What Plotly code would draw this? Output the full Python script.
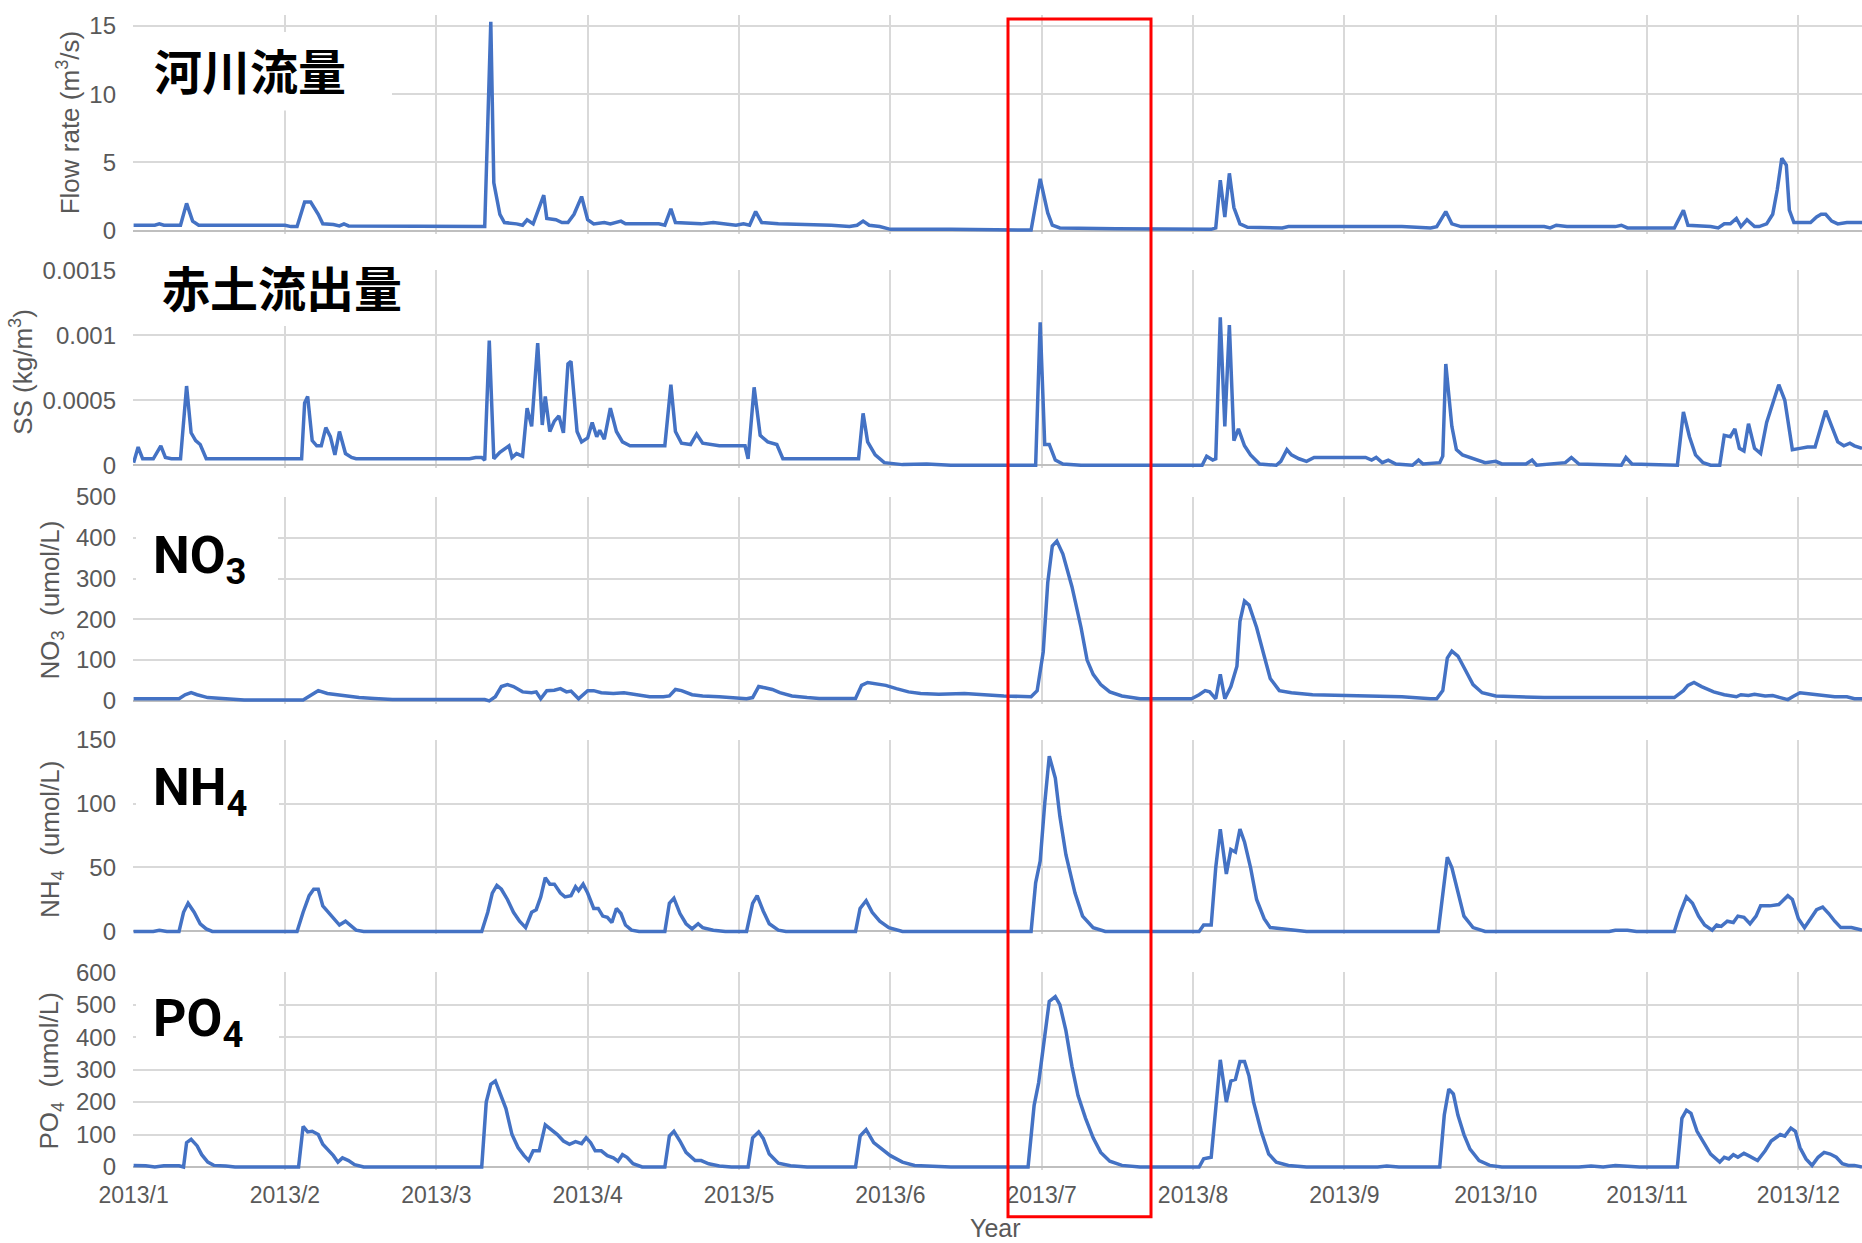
import plotly.graph_objects as go

# ---------------- data (x = months since 2013/1, equally spaced month axis) ----------------
month_ticks = [0, 1, 2, 3, 4, 5, 6, 7, 8, 9, 10, 11]
month_labels = ["2013/1", "2013/2", "2013/3", "2013/4", "2013/5", "2013/6",
                "2013/7", "2013/8", "2013/9", "2013/10", "2013/11", "2013/12"]

t_flow = [0.00, 0.14, 0.17, 0.20, 0.31, 0.35, 0.39, 0.43,
          1.00, 1.04, 1.08, 1.13, 1.17, 1.22, 1.25, 1.32, 1.36, 1.39, 1.42,
          1.99, 2.02, 2.32, 2.36, 2.38, 2.42, 2.45, 2.53, 2.57, 2.60, 2.64, 2.71, 2.73, 2.79, 2.83, 2.87, 2.91, 2.96,
          3.00, 3.04, 3.11, 3.15, 3.18, 3.22, 3.25, 3.47, 3.51, 3.55, 3.58, 3.75, 3.83, 3.91, 3.98,
          4.03, 4.07, 4.11, 4.15, 4.26, 4.61, 4.73, 4.78, 4.82, 4.86, 4.93,
          5.00, 5.40, 5.79, 5.93, 5.99,
          6.04, 6.07, 6.12, 6.49, 6.96,
          7.04, 7.12, 7.15, 7.18, 7.21, 7.24, 7.27, 7.31, 7.36, 7.59, 7.63,
          8.06, 8.38, 8.57, 8.61, 8.67, 8.71, 8.77,
          9.08, 9.32, 9.36, 9.40, 9.47, 9.79, 9.83, 9.87,
          10.18, 10.24, 10.27, 10.42, 10.47, 10.51, 10.55, 10.59, 10.62, 10.66, 10.71, 10.74, 10.79, 10.83, 10.86, 10.89, 10.92, 10.94, 10.97,
          11.08, 11.12, 11.15, 11.18, 11.22, 11.26, 11.32, 11.42]
flow = [0.4, 0.4, 0.5, 0.4, 0.4, 2.0, 0.7, 0.4,
        0.4, 0.3, 0.3, 2.1, 2.1, 1.2, 0.5, 0.45, 0.35, 0.5, 0.35,
        0.35, 0.3, 0.3, 15.3, 3.5, 1.2, 0.6, 0.5, 0.4, 0.8, 0.5, 2.6, 0.9, 0.8, 0.6, 0.6, 1.2, 2.5,
        0.8, 0.5, 0.6, 0.5, 0.6, 0.7, 0.5, 0.5, 0.4, 1.6, 0.6, 0.5, 0.6, 0.5, 0.4,
        0.5, 0.4, 1.4, 0.6, 0.5, 0.4, 0.3, 0.4, 0.7, 0.4, 0.3,
        0.1, 0.1, 0.05, 0.05, 3.8,
        1.3, 0.4, 0.2, 0.15, 0.1,
        0.05, 0.1, 0.2, 3.7, 1.0, 4.2, 1.7, 0.5, 0.25, 0.2, 0.3,
        0.3, 0.3, 0.2, 0.3, 1.4, 0.5, 0.3,
        0.3, 0.3, 0.2, 0.4, 0.3, 0.3, 0.4, 0.2,
        0.2, 1.5, 0.4, 0.3, 0.2, 0.5, 0.5, 0.9, 0.3, 0.8, 0.3, 0.3, 0.5, 1.2, 3.0, 5.3, 4.8, 1.5, 0.6,
        0.6, 1.0, 1.2, 1.2, 0.7, 0.5, 0.6, 0.6]

t_ss = [0.00, 0.03, 0.06, 0.13, 0.18, 0.21, 0.25, 0.31, 0.35, 0.38, 0.41, 0.44, 0.48,
        1.11, 1.13, 1.15, 1.18, 1.21, 1.24, 1.27, 1.30, 1.33, 1.36, 1.40, 1.44, 1.47,
        2.22, 2.26, 2.30, 2.32, 2.35, 2.38, 2.42, 2.48, 2.50, 2.53, 2.57, 2.60, 2.63, 2.67, 2.70, 2.72, 2.75, 2.78, 2.81, 2.84, 2.87, 2.89, 2.93, 2.96,
        3.00, 3.03, 3.06, 3.08, 3.11, 3.15, 3.19, 3.23, 3.28, 3.51, 3.55, 3.58, 3.62, 3.68, 3.72, 3.76, 3.87,
        4.04, 4.06, 4.10, 4.14, 4.19, 4.25, 4.29, 4.79, 4.82, 4.85, 4.90, 4.96,
        5.08, 5.24, 5.40, 5.96, 5.99,
        6.02, 6.05, 6.09, 6.14, 6.26,
        7.06, 7.09, 7.13, 7.15, 7.18, 7.21, 7.24, 7.27, 7.30, 7.34, 7.38, 7.44, 7.55, 7.58, 7.62, 7.65, 7.70, 7.75, 7.80,
        8.14, 8.18, 8.21, 8.25, 8.29, 8.34, 8.45, 8.49, 8.52, 8.63, 8.65, 8.67, 8.71, 8.74, 8.78, 8.85, 8.93,
        9.00, 9.04, 9.20, 9.24, 9.27, 9.46, 9.50, 9.55, 9.83, 9.86, 9.90,
        10.20, 10.24, 10.28, 10.32, 10.37, 10.42, 10.48, 10.51, 10.55, 10.58, 10.61, 10.64, 10.67, 10.71, 10.75, 10.79, 10.83, 10.87, 10.91, 10.96,
        11.01, 11.06, 11.11, 11.15, 11.18, 11.22, 11.26, 11.30, 11.34, 11.37, 11.42]
ss = [0.00002, 0.00014, 0.00005, 0.00005, 0.00015, 0.00006, 0.00005, 0.00005, 0.00061, 0.00025, 0.00019, 0.00016, 0.00005,
      0.00005, 0.00048, 0.00053, 0.00019, 0.00015, 0.00015, 0.00029, 0.00022, 0.00008, 0.00026, 0.00009, 0.00006, 0.00005,
      0.00005, 0.00006, 0.00006, 0.00004, 0.00096, 0.00005, 0.00010, 0.00015, 0.00006, 0.00009, 0.00007, 0.00044, 0.00030, 0.00094, 0.00031, 0.00053, 0.00026, 0.00034, 0.00038, 0.00025, 0.00078, 0.00080, 0.00026, 0.00018,
      0.00021, 0.00033, 0.00022, 0.00027, 0.00020, 0.00044, 0.00026, 0.00018, 0.00015, 0.00015, 0.00062, 0.00026, 0.00017, 0.00016, 0.00024, 0.00017, 0.00015,
      0.00015, 0.00005, 0.00060, 0.00023, 0.00018, 0.00016, 0.00005, 0.00005, 0.00040, 0.00018, 0.00008, 0.00002,
      0.000005, 0.00001, 0.0, 0.0, 0.00110,
      0.00016, 0.00016, 0.00004, 0.00001, 0.0,
      0.0, 0.00007, 0.00004, 0.00005, 0.00114, 0.00030, 0.00108, 0.00019, 0.00028, 0.00015, 0.00008, 0.00001, 0.0, 0.00003, 0.00012, 0.00008, 0.00005, 0.00003, 0.00006,
      0.00006, 0.00004, 0.00006, 0.00002, 0.00004, 0.00001, 0.0, 0.00004, 0.00001, 0.00002, 0.00007, 0.00078, 0.00030, 0.00012, 0.00008, 0.00005, 0.00002,
      0.00003, 0.00001, 0.00001, 0.00004, 0.0, 0.00002, 0.00006, 0.00001, 0.0, 0.00006, 0.00001,
      0.0, 0.00041, 0.00022, 0.00008, 0.00002, 0.0, 0.0, 0.00023, 0.00022, 0.00028, 0.00013, 0.00011, 0.00032, 0.00013, 0.00009, 0.00033, 0.00048, 0.00062, 0.00050, 0.00012,
      0.00013, 0.00014, 0.00014, 0.00030, 0.00042, 0.00030, 0.00018, 0.00015, 0.00017, 0.00015, 0.00013]

t_no3 = [0.00, 0.30, 0.34, 0.38, 0.42, 0.49, 0.61, 0.73,
         1.12, 1.18, 1.22, 1.28, 1.36, 1.44, 1.49, 1.59, 1.71,
         2.32, 2.35, 2.39, 2.43, 2.47, 2.51, 2.57, 2.63, 2.66, 2.69, 2.73, 2.78, 2.82, 2.86, 2.89, 2.94,
         3.00, 3.04, 3.09, 3.17, 3.24, 3.32, 3.41, 3.50, 3.54, 3.58, 3.62, 3.69, 3.76, 3.87, 3.97,
         4.05, 4.09, 4.13, 4.17, 4.22, 4.27, 4.35, 4.45, 4.53, 4.77, 4.81, 4.85, 4.91, 4.97,
         5.04, 5.12, 5.20, 5.32, 5.49, 5.59, 5.75, 5.93, 5.97,
         6.01, 6.04, 6.07, 6.10, 6.14, 6.20, 6.26, 6.30, 6.34, 6.39, 6.45, 6.53, 6.65, 6.99,
         7.04, 7.08, 7.11, 7.15, 7.18, 7.21, 7.25, 7.29, 7.31, 7.34, 7.37, 7.42, 7.47, 7.51, 7.57, 7.65, 7.79,
         8.06, 8.38, 8.57, 8.61, 8.65, 8.68, 8.71, 8.75, 8.80, 8.85, 8.91,
         9.00, 9.32, 9.65, 9.95,
         10.18, 10.24, 10.27, 10.31, 10.36, 10.44, 10.51, 10.59, 10.62, 10.67, 10.71, 10.78, 10.83, 10.88, 10.93, 10.97,
         11.01, 11.08, 11.16, 11.24, 11.32, 11.37, 11.42]
no3 = [5, 5, 15, 20, 15, 8, 5, 2,
       2, 15, 25, 18, 14, 12, 8, 6, 3,
       3, 0, 10, 35, 40, 35, 22, 20, 22, 5, 25, 26, 30, 22, 24, 5,
       25, 25, 20, 18, 20, 15, 10, 10, 12, 28, 25, 15, 12, 10, 8,
       5, 8, 35, 32, 28, 20, 12, 8, 6, 6, 38, 45, 42, 38,
       30, 22, 18, 16, 18, 15, 12, 10, 25,
       120, 290, 380, 392, 360, 280, 180, 100, 65, 40, 22, 12, 5, 5,
       15, 25, 22, 5, 65, 5, 35, 85, 195, 245, 235, 180, 110, 55, 25, 20, 15,
       12, 10, 5, 5, 25, 105, 122, 110, 75, 40, 20,
       12, 8, 8, 10,
       8, 25, 38, 45, 35, 22, 15, 10, 15, 13, 16, 12, 13, 8, 3, 12,
       20, 17, 13, 10, 10, 5, 5]

t_nh4 = [0.00, 0.13, 0.17, 0.22, 0.30, 0.33, 0.36, 0.40, 0.44, 0.48, 0.52,
         1.08, 1.12, 1.16, 1.19, 1.22, 1.25, 1.28, 1.32, 1.36, 1.40, 1.44, 1.47, 1.52,
         2.30, 2.34, 2.37, 2.40, 2.43, 2.47, 2.51, 2.55, 2.59, 2.63, 2.66, 2.69, 2.72, 2.75, 2.78, 2.82, 2.85, 2.89, 2.92, 2.94, 2.97,
         3.00, 3.04, 3.07, 3.10, 3.13, 3.16, 3.19, 3.22, 3.25, 3.29, 3.34, 3.51, 3.54, 3.57, 3.61, 3.65, 3.69, 3.73, 3.76, 3.83, 3.91,
         4.05, 4.09, 4.12, 4.16, 4.20, 4.26, 4.31, 4.77, 4.80, 4.84, 4.88, 4.93, 4.99,
         5.08, 5.93, 5.96, 5.99,
         6.02, 6.05, 6.09, 6.12, 6.16, 6.22, 6.27, 6.34, 6.42,
         7.04, 7.07, 7.12, 7.15, 7.18, 7.22, 7.25, 7.28, 7.31, 7.34, 7.38, 7.42, 7.47, 7.51, 7.59, 7.67, 7.75,
         8.62, 8.65, 8.68, 8.71, 8.75, 8.79, 8.85, 8.93,
         9.75, 9.79, 9.87, 9.93,
         10.18, 10.22, 10.26, 10.30, 10.34, 10.38, 10.43, 10.46, 10.49, 10.53, 10.57, 10.60, 10.64, 10.68, 10.72, 10.75, 10.81, 10.87, 10.93, 10.96,
         11.00, 11.04, 11.08, 11.12, 11.16, 11.20, 11.24, 11.28, 11.35, 11.42]
nh4 = [0, 0, 1, 0, 0, 15, 22, 15, 6, 2, 0,
       0, 15, 28, 33, 33, 20, 16, 10, 5, 8, 4, 1, 0,
       0, 15, 30, 36, 33, 25, 15, 8, 3, 15, 17, 27, 42, 37, 37, 30, 27, 28, 35, 32, 37,
       30, 18, 18, 12, 11, 7, 18, 14, 5, 1, 0, 0, 22, 26, 14, 6, 2, 6, 3, 1, 0,
       0, 22, 28, 16, 6, 1, 0, 0, 18, 24, 15, 8, 3,
       0, 0, 38, 55,
       100, 137, 120, 90, 60, 30, 12, 3, 0,
       0, 5, 5, 50, 80, 45, 64, 62, 80, 70, 50, 25, 10, 3, 2, 1, 0,
       0, 30, 58, 50, 30, 12, 3, 0,
       0, 1, 1, 0,
       0, 15, 27, 22, 12, 5, 1, 5, 4, 8, 7, 12, 11, 6, 12, 20, 20, 21, 28, 25,
       10, 3, 10, 17, 19, 14, 8, 3, 3, 1]

t_po4 = [0.00, 0.08, 0.14, 0.20, 0.30, 0.33, 0.35, 0.38, 0.42, 0.45, 0.49, 0.53, 0.61, 0.67,
         1.09, 1.12, 1.15, 1.18, 1.22, 1.25, 1.28, 1.32, 1.35, 1.38, 1.42, 1.46, 1.52,
         2.30, 2.33, 2.36, 2.39, 2.42, 2.46, 2.50, 2.54, 2.58, 2.61, 2.64, 2.68, 2.72, 2.76, 2.80, 2.84, 2.88, 2.92, 2.96, 2.99,
         3.02, 3.05, 3.09, 3.13, 3.17, 3.20, 3.23, 3.26, 3.30, 3.36, 3.51, 3.54, 3.57, 3.61, 3.65, 3.71, 3.75, 3.80, 3.87, 3.95,
         4.06, 4.09, 4.13, 4.16, 4.20, 4.26, 4.34, 4.45, 4.77, 4.80, 4.84, 4.89, 4.94,
         5.00, 5.08, 5.16, 5.28, 5.40, 5.91, 5.95, 5.98,
         6.02, 6.05, 6.09, 6.12, 6.16, 6.20, 6.24, 6.29, 6.34, 6.39, 6.45, 6.53, 6.65,
         7.04, 7.07, 7.12, 7.15, 7.18, 7.22, 7.25, 7.28, 7.31, 7.34, 7.37, 7.40, 7.45, 7.50, 7.55, 7.63, 7.75,
         8.22, 8.28, 8.36, 8.63, 8.66, 8.69, 8.72, 8.75, 8.79, 8.83, 8.89, 8.96,
         9.04, 9.55, 9.63, 9.71, 9.79, 9.87, 9.95,
         10.20, 10.23, 10.26, 10.29, 10.33, 10.38, 10.42, 10.48, 10.51, 10.54, 10.57, 10.60, 10.64, 10.67, 10.73, 10.78, 10.82, 10.88, 10.91, 10.95, 10.98,
         11.01, 11.05, 11.09, 11.13, 11.17, 11.21, 11.25, 11.29, 11.33, 11.37, 11.42]
po4 = [5, 4, 0, 4, 4, 0, 75, 85, 65, 38, 15, 5, 3, 0,
       0, 125, 108, 110, 100, 70, 55, 35, 15, 28, 20, 7, 0,
       0, 200, 255, 265, 230, 180, 100, 60, 35, 20, 50, 50, 130, 115, 100, 80, 70, 78, 72, 90,
       75, 50, 50, 35, 28, 18, 38, 30, 10, 0, 0, 95, 110, 80, 45, 20, 20, 10, 3, 0,
       0, 90, 108, 88, 40, 12, 4, 0, 0, 95, 115, 75, 58,
       35, 15, 5, 2, 0, 0, 190, 260,
       410, 510, 525, 500, 420, 310, 220, 150, 90, 45, 18, 5, 0,
       0, 25, 30, 180, 330, 200, 265, 270, 325, 325, 280, 200, 110, 40, 15, 5, 0,
       0, 3, 0, 0, 160, 240, 225, 160, 100, 55, 20, 5,
       0, 0, 3, 0, 5, 3, 0,
       0, 150, 175, 165, 110, 70, 40, 15, 30, 25, 38, 30, 42, 35, 20, 50, 80, 100, 95, 120, 110,
       60, 25, 5, 30, 45, 40, 30, 10, 5, 5, 0]

# ---------------- layout constants ----------------
W, H = 1862, 1243
ML, MR, MT, MB = 133, 0, 7, 73
PW, PH = W - ML - MR, H - MT - MB
PAD = 3  # px below the zero line so the line is not clipped

def fx(px):
    return (px - ML) / PW

def fy(py):
    return (H - MB - py) / PH

LINE = "#4472C4"
GRID = "#d9d9d9"
ZERO = "#bfbfbf"
TXT = "#595959"
YTICKFONT = dict(family="Liberation Sans, Arial, sans-serif", size=24, color=TXT)
XTICKFONT = dict(family="Liberation Sans, Arial, sans-serif", size=23, color=TXT)

panels = [
    dict(t=t_flow, v=flow, top=8, zero=225, vmax=15.8, tv=[0, 5, 10, 15], tt=["0", "5", "10", "15"]),
    dict(t=t_ss, v=ss, top=265, zero=461, vmax=0.0015, tv=[0, 0.0005, 0.001, 0.0015],
         tt=["0", "0.0005", "0.001", "0.0015"]),
    dict(t=t_no3, v=no3, top=493, zero=698, vmax=500, tv=[0, 100, 200, 300, 400, 500],
         tt=["0", "100", "200", "300", "400", "500"]),
    dict(t=t_nh4, v=nh4, top=737, zero=930, vmax=150, tv=[0, 50, 100, 150], tt=["0", "50", "100", "150"]),
    dict(t=t_po4, v=po4, top=971, zero=1167, vmax=600, tv=[0, 100, 200, 300, 400, 500, 600],
         tt=["0", "100", "200", "300", "400", "500", "600"]),
]

fig = go.Figure()
layout = dict(
    width=W, height=H,
    margin=dict(l=ML, r=MR, t=MT, b=MB, pad=0),
    paper_bgcolor="white", plot_bgcolor="white",
    showlegend=False,
)

n = len(panels)
for i, p in enumerate(panels, start=1):
    xs = "" if i == 1 else str(i)
    fig.add_trace(go.Scatter(x=p["t"], y=p["v"], mode="lines",
                             line=dict(color=LINE, width=3.5), xaxis="x" + xs, yaxis="y" + xs,
                             hoverinfo="skip"))
    bottom_px = p["zero"] + PAD
    unit_per_px = p["vmax"] / (p["zero"] - p["top"])
    layout["xaxis" + xs] = dict(
        domain=[0, 1], anchor="y" + xs, range=[-0.004, 11.42],
        tickvals=month_ticks, ticktext=month_labels,
        showticklabels=(i == n), tickfont=XTICKFONT, ticks="",
        showgrid=True, gridcolor=GRID, gridwidth=2,
        zeroline=False, showline=False, layer="below traces",
        ticklabelstandoff=9,
        **({} if i == 1 else dict(matches="x")),
    )
    layout["yaxis" + xs] = dict(
        domain=[fy(bottom_px), fy(p["top"])], anchor="x" + xs,
        range=[-PAD * unit_per_px, p["vmax"]],
        tickvals=p["tv"], ticktext=p["tt"], tickfont=YTICKFONT, ticks="",
        showgrid=True, gridcolor=GRID, gridwidth=2,
        zeroline=True, zerolinecolor=ZERO, zerolinewidth=2,
        showline=False, layer="below traces", ticklabelstandoff=16,
    )

fig.update_layout(**layout)

# ---------------- white boxes behind the big labels ----------------
boxes = [(131, 25, 392, 104), (131, 260, 431, 321), (136, 508, 278, 590),
         (136, 745, 279, 820), (136, 985, 279, 1052)]
shapes = []
for (x0, y0, x1, y1) in boxes:
    shapes.append(dict(type="rect", xref="paper", yref="paper",
                       x0=fx(x0), x1=fx(x1), y0=fy(y1), y1=fy(y0),
                       fillcolor="white", line=dict(width=0), layer="above"))
# red highlight rectangle (2013/7)
shapes.append(dict(type="rect", xref="paper", yref="paper",
                   x0=fx(1008), x1=fx(1151), y0=fy(1217), y1=fy(12),
                   fillcolor="rgba(0,0,0,0)", line=dict(color="#ff0000", width=3), layer="above"))
fig.update_layout(shapes=shapes)

# ---------------- annotations ----------------
ann = []
big_cjk = dict(family="Noto Sans CJK JP", size=48, color="black", weight="bold")
big_lat = dict(family="Roboto, Liberation Sans, sans-serif", size=52, color="black", weight="bold")
ann.append(dict(text="<b>河川流量</b>", x=fx(152), y=fy(62), xref="paper", yref="paper",
                xanchor="left", yanchor="middle", showarrow=False, font=big_cjk))
ann.append(dict(text="<b>赤土流出量</b>", x=fx(160), y=fy(281), xref="paper", yref="paper",
                xanchor="left", yanchor="middle", showarrow=False, font=big_cjk))
for txt, ymid in [("NO<sub>3</sub>", 555), ("NH<sub>4</sub>", 789), ("PO<sub>4</sub>", 1021)]:
    ann.append(dict(text="<b>" + txt + "</b>", x=fx(151), y=fy(ymid), xref="paper", yref="paper",
                    xanchor="left", yanchor="middle", showarrow=False, font=big_lat))

axis_title_font = dict(family="Liberation Sans, Arial, sans-serif", size=26, color=TXT)
for txt, xc, yc in [("Flow rate (m<sup>3</sup>/s)", 68, 117),
                    ("SS (kg/m<sup>3</sup>)", 22, 367),
                    ("NO<sub>3</sub>  (umol/L)", 51, 597),
                    ("NH<sub>4</sub>  (umol/L)", 51, 837),
                    ("PO<sub>4</sub>  (umol/L)", 51, 1070)]:
    ann.append(dict(text=txt, x=fx(xc), y=fy(yc), xref="paper", yref="paper",
                    xanchor="center", yanchor="middle", textangle=-90, showarrow=False,
                    font=axis_title_font))
ann.append(dict(text="Year", x=fx(995), y=fy(1228), xref="paper", yref="paper",
                xanchor="center", yanchor="middle", showarrow=False,
                font=dict(family="Liberation Sans, Arial, sans-serif", size=25, color=TXT)))
fig.update_layout(annotations=ann)

fig.write_html("out.html", config={"displayModeBar": False},
               post_script="document.body.style.margin='0px';document.body.style.overflow='hidden';")
